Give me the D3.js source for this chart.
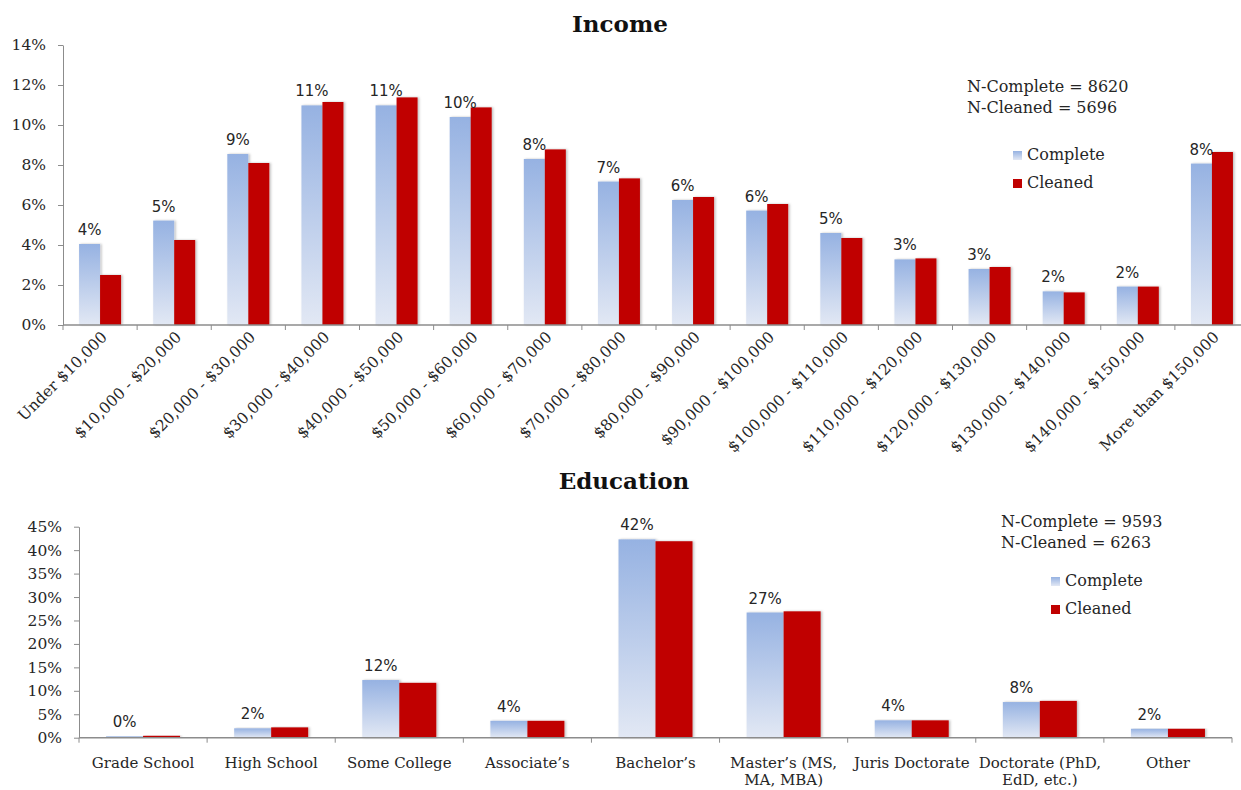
<!DOCTYPE html>
<html>
<head>
<meta charset="utf-8">
<script src="https://cdn.jsdelivr.net/npm/d3@7"></script>
<style>
  body { margin: 0; background: #fff; }
  svg { display: block; }
</style>
</head>
<body>
<svg id="chart" width="1241" height="790"></svg>
<script>
// ---------------- DATA ----------------
const seriesNames = ["Complete", "Cleaned"];

const incomeCategories = [
  "Under $10,000", "$10,000 - $20,000", "$20,000 - $30,000", "$30,000 - $40,000",
  "$40,000 - $50,000", "$50,000 - $60,000", "$60,000 - $70,000", "$70,000 - $80,000",
  "$80,000 - $90,000", "$90,000 - $100,000", "$100,000 - $110,000", "$110,000 - $120,000",
  "$120,000 - $130,000", "$130,000 - $140,000", "$140,000 - $150,000", "More than $150,000"
];
const incomeComplete = [4.05, 5.22, 8.55, 10.98, 10.98, 10.4, 8.3, 7.17, 6.25, 5.72, 4.6, 3.28, 2.8, 1.68, 1.92, 8.07];
const incomeCleaned  = [2.5, 4.25, 8.1, 11.15, 11.38, 10.88, 8.78, 7.33, 6.4, 6.05, 4.35, 3.33, 2.9, 1.63, 1.92, 8.65];
const incomeLabels   = ["4%", "5%", "9%", "11%", "11%", "10%", "8%", "7%", "6%", "6%", "5%", "3%", "3%", "2%", "2%", "8%"];
const incomeTicks    = [0, 2, 4, 6, 8, 10, 12, 14];
const incomeN        = ["N-Complete = 8620", "N-Cleaned = 5696"];

const eduCategories = [
  ["Grade School"], ["High School"], ["Some College"], ["Associate’s"], ["Bachelor’s"],
  ["Master’s (MS,", "MA, MBA)"], ["Juris Doctorate"], ["Doctorate (PhD,", "EdD, etc.)"], ["Other"]
];
const eduComplete = [0.3, 2.0, 12.3, 3.6, 42.3, 26.7, 3.7, 7.6, 1.9];
const eduCleaned  = [0.4, 2.2, 11.7, 3.6, 41.9, 26.95, 3.7, 7.85, 1.9];
const eduLabels   = ["0%", "2%", "12%", "4%", "42%", "27%", "4%", "8%", "2%"];
const eduTicks    = [0, 5, 10, 15, 20, 25, 30, 35, 40, 45];
const eduN        = ["N-Complete = 9593", "N-Cleaned = 6263"];

// ---------------- STYLE ----------------
const SERIF = "'DejaVu Serif', serif";
const SANS = "'DejaVu Sans', sans-serif";
const RED = "#c00000";
const AXIS = "#8c8c8c";
const TEXT = "#262626";

const svg = d3.select("#chart");
const defs = svg.append("defs");
const grad = defs.append("linearGradient")
  .attr("id", "blueGrad").attr("x1", 0).attr("y1", 0).attr("x2", 0).attr("y2", 1);
grad.append("stop").attr("offset", "0%").attr("stop-color", "#96b2e2");
grad.append("stop").attr("offset", "100%").attr("stop-color", "#e2e8f4");
const shadow = defs.append("filter").attr("id", "shadow")
  .attr("x", "-20%").attr("y", "-5%").attr("width", "140%").attr("height", "110%");
shadow.append("feDropShadow").attr("dx", 1.5).attr("dy", 0).attr("stdDeviation", 1)
  .attr("flood-color", "#000").attr("flood-opacity", 0.25);

function drawChart(cfg) {
  const keys = cfg.categories.map((d, i) => i);
  const x = d3.scaleBand().domain(keys).range([cfg.left, cfg.right]).padding(0);
  const y = d3.scaleLinear().domain([0, cfg.max]).range([cfg.bottom, cfg.top]);
  const xs = d3.scaleBand().domain(seriesNames)
    .range([x.bandwidth() / 2 - cfg.barW, x.bandwidth() / 2 + cfg.barW]);

  const g = svg.append("g");

  // title
  g.append("text").attr("x", cfg.titleX).attr("y", cfg.titleY)
    .attr("text-anchor", "middle").attr("font-family", SERIF).attr("font-weight", "bold")
    .attr("font-size", 23).attr("fill", "#111").text(cfg.title);

  // y axis
  const yAxis = d3.axisLeft(y).tickValues(cfg.ticks).tickFormat(d => d + "%")
    .tickSize(5).tickSizeOuter(0).tickPadding(4);
  const ya = g.append("g").attr("transform", `translate(${cfg.left},0)`).call(yAxis);
  ya.select(".domain").attr("stroke", AXIS);
  ya.selectAll(".tick line").attr("stroke", AXIS);
  ya.selectAll(".tick text").attr("font-family", SERIF).attr("font-size", 15.5)
    .attr("fill", TEXT).attr("x", -17);

  // bars
  const seriesVals = { Complete: cfg.complete, Cleaned: cfg.cleaned };
  seriesNames.forEach(s => {
    g.append("g").selectAll("rect").data(keys).join("rect")
      .attr("x", i => x(i) + xs(s))
      .attr("width", xs.bandwidth())
      .attr("y", i => y(seriesVals[s][i]))
      .attr("height", i => y(0) - y(seriesVals[s][i]))
      .attr("fill", s === "Complete" ? "url(#blueGrad)" : RED)
      .attr("filter", "url(#shadow)");
  });

  // data labels (above Complete bars)
  g.append("g").selectAll("text").data(keys).join("text")
    .attr("x", i => x(i) + xs("Complete") + xs.bandwidth() / 2)
    .attr("y", i => y(cfg.complete[i]) - 9)
    .attr("text-anchor", "middle").attr("font-family", SANS).attr("font-size", 15)
    .attr("fill", TEXT).text(i => cfg.labels[i]);

  // x axis line + ticks at category boundaries
  g.append("line").attr("x1", cfg.left).attr("x2", cfg.axisEnd)
    .attr("y1", y(0)).attr("y2", y(0)).attr("stroke", AXIS).attr("stroke-width", 1.5);
  const bounds = keys.map(i => x(i)).concat([x(keys[keys.length - 1]) + x.bandwidth()]);
  g.append("g").selectAll("line").data(bounds).join("line")
    .attr("x1", d => d).attr("x2", d => d)
    .attr("y1", y(0)).attr("y2", y(0) + 5).attr("stroke", AXIS);

  // category labels
  if (cfg.rotate) {
    g.append("g").selectAll("text").data(keys).join("text")
      .attr("transform", i => `translate(${x(i) + x.bandwidth() / 2 + 8},${y(0) + 13}) rotate(-45)`)
      .attr("text-anchor", "end").attr("font-family", SERIF).attr("font-size", 15.5)
      .attr("fill", TEXT).text(i => cfg.categories[i]);
  } else {
    const t = g.append("g").selectAll("text").data(keys).join("text")
      .attr("text-anchor", "middle").attr("font-family", SERIF).attr("font-size", 15)
      .attr("fill", TEXT);
    t.selectAll("tspan").data(i => cfg.categories[i].map(line => ({ line, i }))).join("tspan")
      .attr("x", d => x(d.i) + x.bandwidth() / 2)
      .attr("y", (d, j) => y(0) + 30 + j * 17)
      .text(d => d.line);
  }

  // N annotations
  g.append("g").selectAll("text").data(cfg.nText).join("text")
    .attr("x", cfg.nX).attr("y", (d, j) => cfg.nY + j * 21)
    .attr("font-family", SERIF).attr("font-size", 16).attr("fill", TEXT).text(d => d);

  // legend
  const lg = g.append("g").attr("transform", `translate(${cfg.legX},${cfg.legY})`);
  seriesNames.forEach((s, j) => {
    lg.append("rect").attr("x", 0).attr("y", j * 28 - 9).attr("width", 9).attr("height", 9)
      .attr("fill", s === "Complete" ? "url(#blueGrad)" : RED);
    lg.append("text").attr("x", 14).attr("y", j * 28)
      .attr("font-family", SERIF).attr("font-size", 16).attr("fill", TEXT).text(s);
  });
}

drawChart({
  title: "Income", titleX: 620, titleY: 32,
  categories: incomeCategories, complete: incomeComplete, cleaned: incomeCleaned,
  labels: incomeLabels, ticks: incomeTicks, max: 14,
  left: 63, right: 1249, axisEnd: 1241, top: 45, bottom: 325, barW: 21,
  rotate: true,
  nText: incomeN, nX: 967, nY: 92,
  legX: 1013, legY: 160
});

drawChart({
  title: "Education", titleX: 624, titleY: 489,
  categories: eduCategories, complete: eduComplete, cleaned: eduCleaned,
  labels: eduLabels, ticks: eduTicks, max: 45,
  left: 79, right: 1232, axisEnd: 1232, top: 526.7, bottom: 737.7, barW: 37,
  rotate: false,
  nText: eduN, nX: 1001, nY: 527,
  legX: 1051, legY: 586
});
</script>
</body>
</html>
